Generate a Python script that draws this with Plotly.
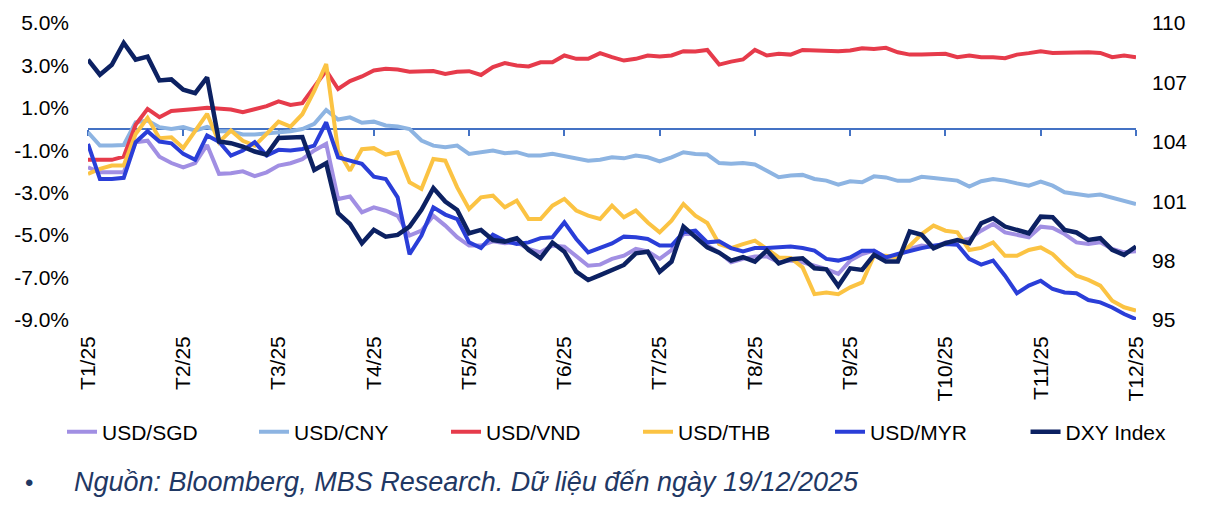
import pandas as pd
import plotly.graph_objects as go

# sampled every 4 days, 01/01/2025 -> 19/12/2025
dates = pd.date_range("2025-01-01", "2025-12-19", freq="4D")
tick_dates = pd.date_range("2025-01-01", "2025-12-19", periods=12)
month_labels = ["T1/25", "T2/25", "T3/25", "T4/25", "T5/25", "T6/25",
                "T7/25", "T8/25", "T9/25", "T10/25", "T11/25", "T12/25"]
pct_ticks = [-9, -7, -5, -3, -1, 1, 3, 5]
pct_labels = ["-9.0%", "-7.0%", "-5.0%", "-3.0%", "-1.0%", "1.0%", "3.0%", "5.0%"]

# % change since start of year (left axis)
usd_sgd = [-1.80, -2.04, -2.04, -2.04, -0.62, -0.55, -1.30, -1.60, -1.80, -1.60, -0.75, -2.11, -2.08,
           -1.99, -2.22, -2.04, -1.72, -1.61, -1.42, -1.01, -0.70, -3.30, -3.18, -3.92, -3.69, -3.85,
           -4.09, -5.02, -4.79, -4.09, -4.55, -5.10, -5.49, -5.49, -5.29, -5.38, -5.34, -5.65,
           -5.81, -5.49, -5.54, -5.97, -6.44, -6.39, -6.12, -5.97, -5.65, -5.76, -6.12, -5.70, -4.95,
           -4.95, -5.49, -5.81, -6.28, -6.12, -6.01, -6.01, -6.28, -6.20, -6.28, -6.44, -6.60, -6.83,
           -6.20, -5.89, -5.73, -6.05, -5.97, -5.65, -5.49, -5.57, -5.34, -5.27, -5.18, -4.79,
           -4.47, -4.87, -4.98, -5.10, -4.60, -4.66, -4.95, -5.34, -5.42, -5.34, -5.65, -5.81, -5.76]

usd_cny = [-0.15, -0.78, -0.78, -0.75, 0.32, 0.40, 0.09, 0.00, 0.09, -0.07, 0.10, -0.10, -0.10,
           -0.25, -0.25, -0.20, -0.15, -0.10, 0.00, 0.25, 0.90, 0.45, 0.55, 0.30, 0.35, 0.17,
           0.12, 0.00, -0.54, -0.78, -0.86, -0.78, -1.17, -1.09, -1.01, -1.14, -1.09, -1.25,
           -1.25, -1.17, -1.28, -1.41, -1.49, -1.45, -1.33, -1.38, -1.25, -1.33, -1.52, -1.33, -1.09,
           -1.17, -1.20, -1.60, -1.64, -1.60, -1.67, -1.96, -2.27, -2.19, -2.16, -2.35, -2.43, -2.62,
           -2.46, -2.51, -2.23, -2.28, -2.44, -2.44, -2.25, -2.31, -2.35, -2.43, -2.71, -2.46,
           -2.35, -2.43, -2.56, -2.67, -2.48, -2.67, -2.98, -3.06, -3.14, -3.09, -3.25, -3.40, -3.53]

usd_vnd = [-1.45, -1.45, -1.45, -1.30, 0.20, 0.95, 0.56, 0.85, 0.92, 0.95, 1.00, 0.95, 0.92,
           0.79, 0.95, 1.08, 1.31, 1.14, 1.22, 1.97, 2.76, 1.89, 2.26, 2.48, 2.76, 2.84,
           2.81, 2.70, 2.70, 2.74, 2.60, 2.70, 2.73, 2.55, 2.92, 3.11, 3.00, 2.95,
           3.15, 3.15, 3.47, 3.31, 3.31, 3.58, 3.39, 3.23, 3.31, 3.47, 3.42, 3.47, 3.67,
           3.66, 3.73, 3.04, 3.18, 3.28, 3.73, 3.47, 3.55, 3.51, 3.73, 3.70, 3.67, 3.67,
           3.70, 3.81, 3.78, 3.83, 3.62, 3.51, 3.51, 3.51, 3.55, 3.39, 3.47, 3.39,
           3.39, 3.34, 3.51, 3.58, 3.67, 3.59, 3.61, 3.62, 3.62, 3.59, 3.39, 3.47, 3.39]

usd_thb = [-2.11, -1.88, -1.72, -1.72, -0.23, 0.53, -0.43, -0.39, -0.89, -0.10, 0.72, -0.62, -0.07,
           -0.55, -0.78, -0.23, 0.35, 0.12, 0.70, 1.80, 3.07, -1.01, -1.96, -0.95, -0.90, -1.20,
           -1.09, -2.51, -2.82, -1.41, -1.49, -2.75, -3.77, -3.22, -3.14, -3.69, -3.37, -4.24,
           -4.24, -3.61, -3.29, -3.84, -4.08, -4.24, -3.61, -4.16, -3.84, -4.40, -4.87, -4.32, -3.53,
           -4.08, -4.43, -5.42, -5.61, -5.42, -5.26, -5.65, -6.05, -6.08, -6.52, -7.78, -7.70, -7.78,
           -7.46, -7.23, -5.97, -5.97, -6.05, -5.50, -4.95, -4.55, -4.79, -4.87, -5.70, -5.60,
           -5.34, -5.97, -5.97, -5.70, -5.58, -5.89, -6.44, -6.91, -7.11, -7.38, -8.09, -8.40, -8.56]

usd_myr = [-0.70, -2.35, -2.35, -2.30, -0.62, -0.10, -0.59, -0.67, -1.17, -1.45, -0.30, -0.60, -1.25,
           -1.01, -0.62, -1.25, -0.98, -1.01, -0.94, -0.78, 0.32, -1.33, -1.49, -1.64, -2.24, -2.35,
           -3.22, -5.90, -5.02, -3.69, -4.03, -4.24, -5.34, -5.61, -4.98, -5.27, -5.42, -5.34,
           -5.14, -5.10, -4.40, -5.18, -5.81, -5.61, -5.39, -5.07, -5.10, -5.18, -5.49, -5.49, -4.87,
           -4.79, -5.34, -5.29, -5.61, -5.77, -5.61, -5.61, -5.58, -5.54, -5.61, -5.73, -6.12, -6.20,
           -6.05, -5.73, -5.73, -6.05, -5.89, -5.73, -5.61, -5.50, -5.42, -5.45, -6.12, -6.39,
           -6.20, -6.91, -7.74, -7.38, -7.15, -7.54, -7.70, -7.74, -8.06, -8.17, -8.41, -8.72, -8.96]

# DXY index level (right axis)
dxy_index = [108.15, 107.39, 107.89, 108.99, 108.15, 108.30, 107.10, 107.15, 106.63, 106.46, 107.25, 104.02, 103.93,
             103.75, 103.51, 103.35, 104.19, 104.19, 104.24, 102.58, 102.92, 100.40, 99.85, 98.88, 99.55, 99.21,
             99.30, 99.72, 100.56, 101.66, 100.98, 100.56, 99.38, 99.55, 99.04, 98.96, 99.13, 98.54,
             98.12, 98.91, 98.45, 97.44, 97.02, 97.27, 97.53, 97.78, 98.37, 98.45, 97.44, 97.95, 99.72,
             99.21, 98.67, 98.40, 98.00, 98.17, 97.95, 98.51, 97.86, 98.07, 98.12, 97.61, 97.56, 96.72,
             97.61, 97.53, 98.29, 97.95, 97.95, 99.47, 99.30, 98.62, 98.88, 99.04, 98.88, 99.89,
             100.14, 99.72, 99.52, 99.38, 100.22, 100.19, 99.55, 99.42, 99.04, 99.13, 98.54, 98.29, 98.71]

series = [
    ("USD/SGD", usd_sgd, "#A18FE3"),
    ("USD/CNY", usd_cny, "#8DB4E2"),
    ("USD/VND", usd_vnd, "#E63B4B"),
    ("USD/THB", usd_thb, "#FBC343"),
    ("USD/MYR", usd_myr, "#2A3ED8"),
]

FONT = "Liberation Sans, Arial, sans-serif"
AXIS_BLUE = "#4472C4"
NAVY_TEXT = "#1F3864"

fig = go.Figure()
for name, vals, color in series:
    fig.add_trace(go.Scatter(x=dates, y=vals, name=name, mode="lines",
                             line=dict(color=color, width=4)))
# DXY sits on the secondary axes (x2 carries the 0% axis line) and in its own
# legend box so the legend row does not wrap
fig.add_trace(go.Scatter(x=dates, y=dxy_index, name="DXY Index", mode="lines",
                         xaxis="x2", yaxis="y2", legend="legend2",
                         line=dict(color="#0C2162", width=4.5)))

# page body has an 8px margin, so the figure is a bit smaller than the window
fig.update_layout(
    width=1203, height=497,
    margin=dict(l=80, r=75, t=15, b=185),
    paper_bgcolor="white", plot_bgcolor="white",
    font=dict(family=FONT, size=21, color="#000000"),
    legend=dict(orientation="h", x=-0.0248, y=-0.3771, xanchor="left", yanchor="middle",
                entrywidth=147, entrywidthmode="pixels", font=dict(size=21)),
    legend2=dict(orientation="h", x=0.8946, y=-0.3771, xanchor="left", yanchor="middle",
                 font=dict(size=21)),
    xaxis=dict(type="date", range=[dates[0], dates[-1]], tickvals=tick_dates,
               ticktext=month_labels, tickangle=-90, showline=False, showgrid=False,
               zeroline=False, ticks="", ticklabelstandoff=11, automargin=False),
    # axis line crossing at 0% with the month tick marks
    xaxis2=dict(type="date", overlaying="x", anchor="free", position=9 / 14,
                range=[dates[0], dates[-1]], tickvals=tick_dates, showticklabels=False,
                ticks="outside", ticklen=6, tickwidth=1.5, tickcolor=AXIS_BLUE,
                showline=True, linecolor=AXIS_BLUE, linewidth=1.5, showgrid=False,
                zeroline=False, layer="below traces", automargin=False),
    yaxis=dict(range=[-9, 5], tickvals=pct_ticks, ticktext=pct_labels,
               showgrid=False, zeroline=False, showline=False, ticks="",
               ticklabelstandoff=18, automargin=False),
    yaxis2=dict(overlaying="y", side="right", anchor="x", range=[95, 110], tick0=95, dtick=3,
                showgrid=False, zeroline=False, showline=False, ticks="",
                ticklabelstandoff=15, automargin=False),
)

fig.add_annotation(text="•", xref="paper", yref="paper", x=-0.0563, y=-0.5455,
                   showarrow=False, xanchor="center", yanchor="middle",
                   font=dict(family=FONT, size=24, color=NAVY_TEXT))
fig.add_annotation(text="<i>Nguồn: Bloomberg, MBS Research. Dữ liệu đến ngày 19/12/2025</i>",
                   xref="paper", yref="paper", x=-0.0152, y=-0.5455,
                   showarrow=False, xanchor="left", yanchor="middle",
                   font=dict(family=FONT, size=27, color=NAVY_TEXT))

fig.write_html("out.html")
